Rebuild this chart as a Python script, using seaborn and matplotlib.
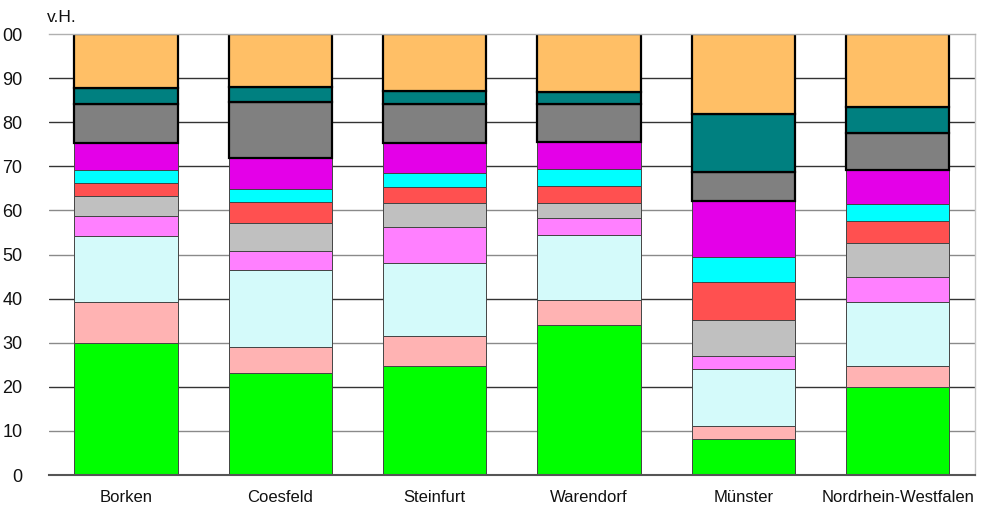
import matplotlib
matplotlib.use("Agg")
import matplotlib.pyplot as plt
import numpy as np
import pandas as pd
import seaborn as sns

# Regions shown on the x axis
regions = ["Borken", "Coesfeld", "Steinfurt", "Warendorf", "Münster", "Nordrhein-Westfalen"]

# Shares in percent (v.H.), stacked from bottom to top
s01 = [29.9, 23.1, 24.7, 34.0, 8.2, 20.0]
s02 = [9.4, 5.9, 6.8, 5.7, 2.9, 4.7]
s03 = [14.9, 17.5, 16.6, 14.7, 12.9, 14.6]
s04 = [4.6, 4.3, 8.2, 3.8, 3.0, 5.5]
s05 = [4.5, 6.3, 5.3, 3.5, 8.1, 7.9]
s06 = [3.0, 4.8, 3.7, 3.8, 8.6, 5.0]
s07 = [2.9, 3.0, 3.2, 3.8, 5.7, 3.8]
s08 = [6.1, 7.0, 6.8, 6.3, 12.7, 7.7]
s09 = [8.8, 12.7, 8.8, 8.5, 6.7, 8.3]
s10 = [3.7, 3.4, 2.9, 2.7, 13.1, 6.0]
s11 = [12.2, 12.0, 13.0, 13.2, 18.1, 16.5]

layers = [s01, s02, s03, s04, s05, s06, s07, s08, s09, s10, s11]

# Fill colours per layer (bottom to top)
colors = ["#00FF00", "#FFB3B3", "#D4FAFA", "#FF80FF", "#C0C0C0", "#FF5050",
          "#00FFFF", "#E400E8", "#808080", "#008080", "#FFBF66"]
# The three upper layers carry a heavy black outline
edge_w = [0.7] * 8 + [1.6] * 3
edge_c = ["#444444"] * 8 + ["#000000"] * 3

sns.set_theme(style="white")
plt.rcParams["font.family"] = ["Liberation Sans", "DejaVu Sans"]

fig = plt.figure(figsize=(9.85, 5.07), dpi=100)
ax = fig.add_axes([0.0497, 0.0631, 0.9401, 0.8698])

# Horizontal grid lines behind the bars
grid_dark = [20, 40, 70, 80, 90]
for yv in range(10, 100, 10):
    ax.axhline(yv, color="#333333" if yv in grid_dark else "#8a8a8a",
               lw=1.0, zorder=0)

bottom = np.zeros(len(regions))
for vals, col, lw, ec in zip(layers, colors, edge_w, edge_c):
    df = pd.DataFrame({"region": regions, "share": vals})
    n_before = len(ax.patches)
    sns.barplot(data=df, x="region", y="share", color=col, saturation=1,
                width=0.67, edgecolor=ec, linewidth=lw, ax=ax, zorder=2)
    for patch, b in zip(ax.patches[n_before:], bottom):
        patch.set_y(b)
    bottom = bottom + np.array(vals)

ax.set_xlim(-0.5, 5.5)
ax.set_ylim(0, 100)
ax.set_yticks(range(0, 101, 10))
ax.set_yticklabels(["0", "10", "20", "30", "40", "50", "60", "70", "80", "90", "00"])
ax.set_xlabel("")
ax.set_ylabel("")
ax.tick_params(axis="y", length=0, pad=19, labelsize=13, colors="#111111")
ax.tick_params(axis="x", length=0, pad=11, labelsize=12, colors="#111111")

ax.spines["left"].set_visible(False)
ax.spines["top"].set_color("#b0b0b0")
ax.spines["top"].set_linewidth(1.0)
ax.spines["right"].set_color("#c8c8c8")
ax.spines["right"].set_linewidth(1.0)
ax.spines["bottom"].set_color("#555555")
ax.spines["bottom"].set_linewidth(1.5)

fig.text(47 / 985, 1 - 17 / 507, "v.H.", fontsize=12.5, ha="left", va="center",
         color="#111111")

fig.savefig("out.png", dpi=100)
